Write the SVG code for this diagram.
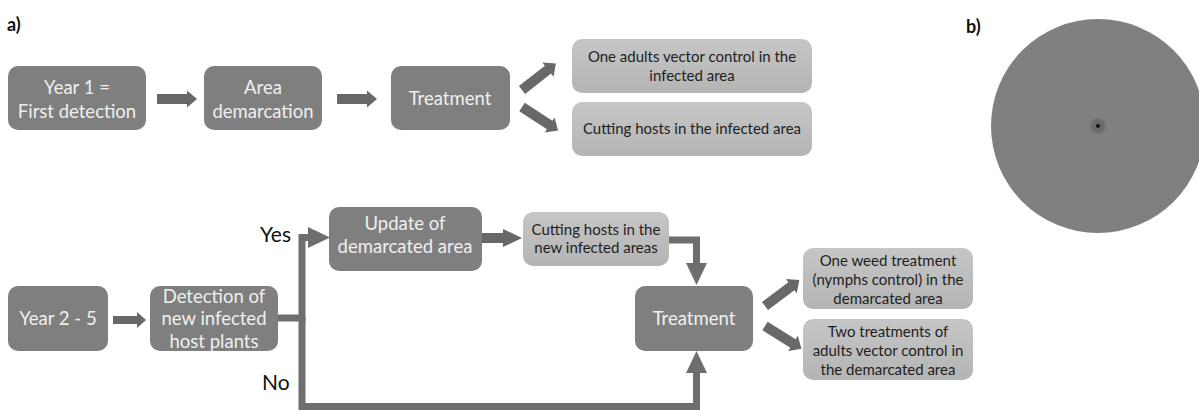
<svg xmlns="http://www.w3.org/2000/svg" width="1199" height="410" viewBox="0 0 1199 410">
<style>
.dark{fill:#7f7f7f}
.light{fill:url(#lg)}
.dt{font-family:Lato,"Liberation Sans",sans-serif;font-size:18.5px;fill:#efefef;text-anchor:middle}
.lt{font-family:Lato,"Liberation Sans",sans-serif;font-size:15px;fill:#1e1e1e;text-anchor:middle}
.lab{font-family:Lato,"Liberation Sans",sans-serif;font-size:21px;fill:#111}
.hd{font-family:Lato,"Liberation Sans",sans-serif;font-size:18px;font-weight:bold;fill:#111}
.blk{fill:#686868}
.con{fill:none;stroke:#6e6e6e;stroke-width:7;stroke-linejoin:miter}
.head{fill:#6e6e6e}
</style>
<defs>
<linearGradient id="lg" x1="0" y1="0" x2="0" y2="1">
<stop offset="0" stop-color="#c6c6c6"/>
<stop offset="1" stop-color="#b4b4b4"/>
</linearGradient>
<path id="diag" d="M0,-5 H33 V-9 L43,0 L33,9 V5 H0Z"/>
<clipPath id="clipDet"><rect x="150" y="286" width="128" height="65" rx="10"/></clipPath>
<filter id="bl" x="-50%" y="-50%" width="200%" height="200%"><feGaussianBlur stdDeviation="1.2"/></filter>
</defs>

<text class="hd" x="7" y="31">a)</text>
<text class="hd" x="966" y="33">b)</text>

<g id="year1"><rect class="dark" x="8" y="66" width="138" height="64" rx="10"/><text class="dt" x="77" y="94">Year 1 =</text><text class="dt" x="77" y="118">First detection</text></g>
<g id="area"><rect class="dark" x="204" y="66" width="118" height="64" rx="10"/><text class="dt" x="263" y="94">Area</text><text class="dt" x="263" y="118">demarcation</text></g>
<g id="treat1"><rect class="dark" x="391" y="66" width="119" height="64" rx="10"/><text class="dt" x="450" y="105">Treatment</text></g>
<g id="adults1"><rect class="light" x="572" y="39" width="240" height="54" rx="10"/><text class="lt" x="692" y="62">One adults vector control in the</text><text class="lt" x="692" y="81">infected area</text></g>
<g id="cut1"><rect class="light" x="572" y="102" width="240" height="54" rx="10"/><text class="lt" x="692" y="134">Cutting hosts in the infected area</text></g>

<g id="year25"><rect class="dark" x="8" y="286" width="100" height="65" rx="10"/><text class="dt" x="58" y="325">Year 2 - 5</text></g>
<g id="detect"><rect class="dark" x="150" y="286" width="128" height="65" rx="10"/><g clip-path="url(#clipDet)"><text class="dt" x="214" y="302.5">Detection of</text><text class="dt" x="214" y="325">new infected</text><text class="dt" x="214" y="348">host plants</text></g></g>
<g id="update"><rect class="dark" x="329" y="207" width="153" height="64" rx="10"/><text class="dt" x="405" y="230">Update of</text><text class="dt" x="405" y="253">demarcated area</text></g>
<g id="cut2"><rect class="light" x="523" y="212" width="146" height="54" rx="10"/><text class="lt" x="596" y="235">Cutting hosts in the</text><text class="lt" x="596" y="253">new infected areas</text></g>
<g id="treat2"><rect class="dark" x="635" y="286" width="118" height="65" rx="10"/><text class="dt" x="694" y="325">Treatment</text></g>
<g id="weed"><rect class="light" x="803" y="248" width="170" height="61" rx="10"/><text class="lt" x="888" y="266">One weed treatment</text><text class="lt" x="888" y="285">(nymphs control) in the</text><text class="lt" x="888" y="304">demarcated area</text></g>
<g id="two"><rect class="light" x="803" y="319" width="170" height="61" rx="10"/><text class="lt" x="888" y="337">Two treatments of</text><text class="lt" x="888" y="356">adults vector control in</text><text class="lt" x="888" y="375">the demarcated area</text></g>

<g id="circle">
<circle cx="1098" cy="126" r="107" fill="#808080"/>
<circle cx="1098" cy="126" r="7.5" fill="#6a6a6a" filter="url(#bl)"/>
<circle cx="1098" cy="126" r="2" fill="#111"/>
</g>

<g id="connectors">
<path class="blk" d="M157,94 H187 V90.5 L197,99 L187,107.5 V104 H157Z"/>
<path class="blk" d="M337,94 H367 V90.5 L377,99 L367,107.5 V104 H337Z"/>
<use href="#diag" class="blk" transform="translate(522,90) rotate(-38)"/>
<use href="#diag" class="blk" transform="translate(522,107) rotate(33)"/>
<path class="blk" d="M113,316 H137 V312 L146,320 L137,328 V324 H113Z"/>
<path class="blk" d="M482,233 H503 V229 L522,238 L503,247 V243 H482Z"/>
<use href="#diag" class="blk" transform="translate(765,306) rotate(-37)"/>
<use href="#diag" class="blk" transform="translate(765,326) rotate(32)"/>
<path class="con" d="M278,318 H302 V237.5 H310"/>
<path class="head" d="M308,227 L330,237.5 L308,248Z"/>
<path class="con" d="M302,318 V406.5 H696.5 V372"/>
<path class="head" d="M686,373 L696.5,351 L707,373Z"/>
<path class="con" d="M669,240 H696.5 V265"/>
<path class="head" d="M686,263 L707,263 L696.5,285Z"/>
<text class="lab" x="260" y="242">Yes</text>
<text class="lab" x="262" y="390">No</text>
</g>
</svg>
